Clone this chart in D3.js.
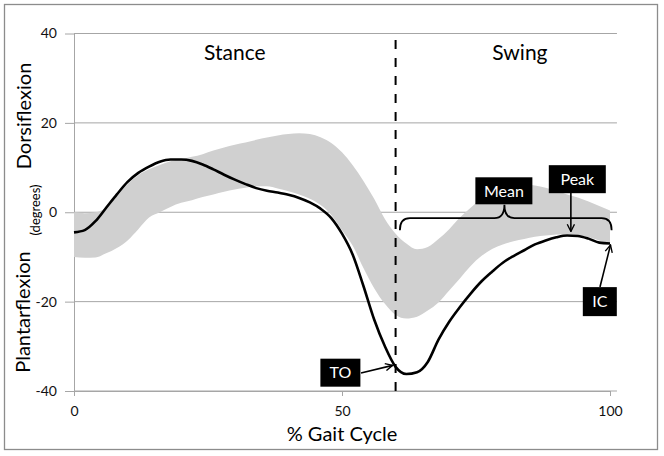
<!DOCTYPE html>
<html>
<head>
<meta charset="utf-8">
<script src="https://cdn.jsdelivr.net/npm/d3@7"></script>
<style>
  body { margin: 0; background: #fff; }
  svg { display: block; font-family: Lato, "Open Sans", sans-serif; }
  .axis path, .axis line { stroke: #a6a6a6; stroke-width: 1; }
  .axis text { font-size: 14px; fill: #111; font-family: Lato, "Open Sans", sans-serif; }
  .grid { stroke: #a6a6a6; stroke-width: 1; }
</style>
</head>
<body>
<svg id="chart" width="664" height="456"></svg>
<script>
// % of gait cycle
var pct = [0, 2, 4, 6, 8, 10, 12, 14, 16, 18, 20, 22, 24, 26, 28, 30, 32, 34, 36, 38, 40,
           42, 44, 46, 48, 50, 52, 54, 56, 58, 60, 62, 64, 66, 68, 70, 72, 74, 76, 78, 80,
           82, 84, 86, 88, 90, 92, 94, 96, 98, 100];

// subject ankle angle (degrees)
var ankle = [-4.5, -4.0, -2.0, 1.0, 4.0, 6.8, 8.8, 10.2, 11.3, 11.8, 11.8, 11.5, 10.7, 9.6, 8.4, 7.3,
             6.3, 5.4, 4.8, 4.4, 3.9, 3.2, 2.2, 0.8, -1.3, -4.8, -9.5, -16.5, -24.0, -30.0, -34.6,
             -36.2, -35.8, -33.5, -28.5, -24.5, -21.2, -18.2, -15.5, -13.3, -11.3, -9.8, -8.5, -7.2,
             -6.3, -5.6, -5.2, -5.3, -5.9, -6.8, -7.0];

// normal band, upper and lower edge
var normHigh = [0.0, -0.2, 0.0, 1.0, 3.5, 6.3, 8.3, 9.6, 10.6, 11.4, 11.9, 12.4, 13.0, 13.8, 14.5, 15.1,
                15.6, 16.2, 16.7, 17.2, 17.5, 17.7, 17.5, 16.8, 15.5, 13.4, 10.5, 7.0, 3.0, -1.5, -4.8,
                -7.0, -8.3, -7.8, -6.0, -3.8, -1.2, 1.0, 3.0, 4.5, 5.5, 6.0, 6.2, 6.0, 5.5, 4.8,
                4.0, 3.3, 2.4, 1.4, 0.4];
var normLow = [-10.0, -10.2, -10.1, -9.2, -8.0, -6.3, -3.8, -1.2, 0.0, 1.2, 2.1, 2.7, 3.4, 4.0, 4.6, 5.1,
               5.5, 5.8, 5.8, 5.3, 4.7, 4.0, 3.0, 1.6, -0.6, -4.0, -7.5, -12.5, -17.0, -20.5, -23.0,
               -23.8, -23.4, -22.0, -20.2, -17.5, -14.8, -12.0, -9.8, -8.2, -7.2, -6.5, -6.0, -5.5,
               -5.2, -5.0, -4.9, -5.1, -5.6, -6.3, -7.2];

var yTicks = [-40, -20, 0, 20, 40];
var xTicks = [0, 50, 100];
var toeOff = 60;

var svg = d3.select("#chart");

var x = d3.scaleLinear().domain([0, 100]).range([74, 610]);
var y = d3.scaleLinear().domain([-40, 40]).range([391, 33.5]);

svg.append("rect")
    .attr("x", 4.5).attr("y", 4.5)
    .attr("width", 653).attr("height", 445)
    .attr("fill", "#fff")
    .attr("stroke", "#8c8c8c")
    .attr("stroke-width", 1.3);

svg.append("defs").append("marker")
    .attr("id", "head")
    .attr("viewBox", "0 0 10 10")
    .attr("refX", 9).attr("refY", 5)
    .attr("markerWidth", 9).attr("markerHeight", 9)
    .attr("markerUnits", "userSpaceOnUse")
    .attr("orient", "auto")
  .append("path")
    .attr("d", "M1,1 L9,5 L1,9")
    .attr("fill", "none")
    .attr("stroke", "#000")
    .attr("stroke-width", 1.5);

// gridlines
svg.append("g")
  .selectAll("line")
  .data(yTicks)
  .enter().append("line")
    .attr("class", "grid")
    .attr("x1", x(0)).attr("x2", x(101.3))
    .attr("y1", function(d) { return y(d); })
    .attr("y2", function(d) { return y(d); });

// plain hyphen for negatives, like the original
var fmt = function(d) { return String(d); };

svg.append("g")
    .attr("class", "axis")
    .attr("transform", "translate(" + x(0) + ",0)")
    .call(d3.axisLeft(y).tickValues(yTicks).tickFormat(fmt).tickSize(9).tickSizeOuter(0).tickPadding(8));

svg.append("g")
    .attr("class", "axis")
    .attr("transform", "translate(0," + y(-40) + ")")
    .call(d3.axisBottom(x).tickValues(xTicks).tickFormat(fmt).tickSize(5).tickSizeOuter(0).tickPadding(10));

// normal band
var band = d3.area()
    .x(function(d, i) { return x(pct[i]); })
    .y0(function(d, i) { return y(normLow[i]); })
    .y1(function(d, i) { return y(normHigh[i]); })
    .curve(d3.curveMonotoneX);

svg.append("path")
    .attr("d", band(pct))
    .attr("fill", "#d0d0d0");

// toe off
svg.append("line")
    .attr("x1", x(toeOff)).attr("x2", x(toeOff))
    .attr("y1", 40).attr("y2", 393)
    .attr("stroke", "#000")
    .attr("stroke-width", 2)
    .attr("stroke-dasharray", "9,9");

var line = d3.line()
    .x(function(d, i) { return x(pct[i]); })
    .y(function(d) { return y(d); })
    .curve(d3.curveMonotoneX);

svg.append("path")
    .attr("d", line(ankle))
    .attr("fill", "none")
    .attr("stroke", "#000")
    .attr("stroke-width", 2.6)
    .attr("stroke-linejoin", "round");

// phase labels
svg.append("text")
    .attr("x", x(30)).attr("y", 60)
    .attr("text-anchor", "middle")
    .attr("font-size", 21)
    .text("Stance");

svg.append("text")
    .attr("x", x(83.2)).attr("y", 60)
    .attr("text-anchor", "middle")
    .attr("font-size", 21)
    .text("Swing");

// axis titles
svg.append("text")
    .attr("transform", "translate(31,116) rotate(-90)")
    .attr("text-anchor", "middle")
    .attr("font-size", 20)
    .text("Dorsiflexion");

svg.append("text")
    .attr("transform", "translate(30,312) rotate(-90)")
    .attr("text-anchor", "middle")
    .attr("font-size", 20)
    .text("Plantarflexion");

svg.append("text")
    .attr("transform", "translate(40,210) rotate(-90)")
    .attr("text-anchor", "middle")
    .attr("font-size", 13)
    .text("(degrees)");

svg.append("text")
    .attr("x", 342).attr("y", 441)
    .attr("text-anchor", "middle")
    .attr("font-size", 20)
    .text("% Gait Cycle");

// brace over swing phase
var bx0 = x(60.8), bx1 = x(100.3), bm = x(80.3);
var by = y(-1.3), bEnd = y(-4.0), bTip = y(1.7), r = 10;
svg.append("path")
    .attr("d", "M" + bx0 + "," + bEnd +
               " Q" + bx0 + "," + by + " " + (bx0 + r) + "," + by +
               " L" + (bm - r) + "," + by +
               " Q" + bm + "," + by + " " + bm + "," + bTip +
               " Q" + bm + "," + by + " " + (bm + r) + "," + by +
               " L" + (bx1 - r) + "," + by +
               " Q" + bx1 + "," + by + " " + bx1 + "," + bEnd)
    .attr("fill", "none")
    .attr("stroke", "#000")
    .attr("stroke-width", 1.8);

// arrows
var last = ankle.length - 1;
var arrows = [
  [[361, 373], [x(toeOff) - 3, y(ankle[30]) - 1.5]],
  [[600, 287], [x(pct[last]) + 0.5, y(ankle[last]) + 1.5]],
  [[x(92.7), 193], [x(92.7), y(ankle[46]) - 4]]
];
svg.append("g")
  .selectAll("line")
  .data(arrows)
  .enter().append("line")
    .attr("x1", function(d) { return d[0][0]; })
    .attr("y1", function(d) { return d[0][1]; })
    .attr("x2", function(d) { return d[1][0]; })
    .attr("y2", function(d) { return d[1][1]; })
    .attr("stroke", "#000")
    .attr("stroke-width", 1.6)
    .attr("marker-end", "url(#head)");

// labels in black boxes
var notes = [
  { label: "TO", gx: 49.7, gy: -35.9, w: 40, h: 28 },
  { label: "IC", gx: 98.1, gy: -20.0, w: 34, h: 29 },
  { label: "Mean", gx: 80.2, gy: 4.8, w: 57, h: 27 },
  { label: "Peak", gx: 93.9, gy: 7.4, w: 57, h: 28 }
];

var note = svg.append("g")
  .selectAll("g")
  .data(notes)
  .enter().append("g")
    .attr("transform", function(d) { return "translate(" + x(d.gx) + "," + y(d.gy) + ")"; });

note.append("rect")
    .attr("x", function(d) { return -d.w / 2; })
    .attr("y", function(d) { return -d.h / 2; })
    .attr("width", function(d) { return d.w; })
    .attr("height", function(d) { return d.h; })
    .attr("fill", "#000");

note.append("text")
    .attr("text-anchor", "middle")
    .attr("dy", "0.36em")
    .attr("fill", "#fff")
    .attr("font-size", 16)
    .text(function(d) { return d.label; });
</script>
</body>
</html>
